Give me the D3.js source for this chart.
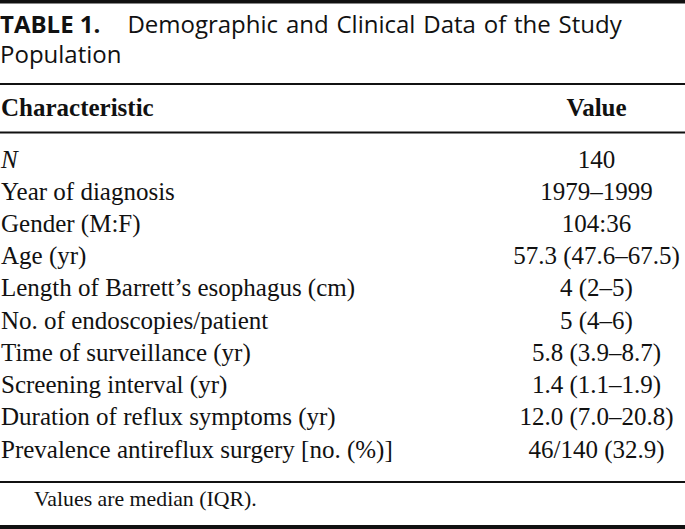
<!DOCTYPE html>
<html>
<head>
<meta charset="utf-8">
<script src="https://cdn.jsdelivr.net/npm/d3@7"></script>
<style>
  html, body { margin: 0; padding: 0; background: #fff; }
  svg { display: block; }
</style>
</head>
<body>
<svg id="chart" width="685" height="529"></svg>
<script>
// ---- data ----
const titleLabel = "TABLE 1.";
const titleLine1 = "Demographic and Clinical Data of the Study";
const titleLine2 = "Population";
const headers = ["Characteristic", "Value"];
const characteristics = [
  "N",
  "Year of diagnosis",
  "Gender (M:F)",
  "Age (yr)",
  "Length of Barrett\u2019s esophagus (cm)",
  "No. of endoscopies/patient",
  "Time of surveillance (yr)",
  "Screening interval (yr)",
  "Duration of reflux symptoms (yr)",
  "Prevalence antireflux surgery [no. (%)]"
];
const values = [
  "140",
  "1979\u20131999",
  "104:36",
  "57.3 (47.6\u201367.5)",
  "4 (2\u20135)",
  "5 (4\u20136)",
  "5.8 (3.9\u20138.7)",
  "1.4 (1.1\u20131.9)",
  "12.0 (7.0\u201320.8)",
  "46/140 (32.9)"
];
const italicRows = ["N"];
const footnote = "Values are median (IQR).";

// ---- layout ----
const W = 685, H = 529;
const svg = d3.select("#chart");
const serif = "'Liberation Serif', 'Times New Roman', serif";
const sans = "'Open Sans', 'Noto Sans', sans-serif";
const ink = "#111";
const bodySize = 25;

const rows = characteristics.map((c, i) => ({ c, v: values[i] }));
const y = d3.scalePoint().domain(d3.range(rows.length)).range([167.5, 457.5]);
const xLabel = 1, xValue = 596.5;

// rules
const rules = [
  { y: 1.75, w: 3.5 },
  { y: 84, w: 2 },
  { y: 132.5, w: 2 },
  { y: 482, w: 2 },
  { y: 527, w: 4 }
];
svg.selectAll("line.rule").data(rules).join("line")
  .attr("class", "rule")
  .attr("x1", 0).attr("x2", W)
  .attr("y1", d => d.y).attr("y2", d => d.y)
  .attr("stroke", ink).attr("stroke-width", d => d.w);

// title
const t1 = svg.append("text")
  .attr("x", 0).attr("y", 33)
  .attr("font-family", sans).attr("font-size", 24).attr("fill", ink);
t1.append("tspan").attr("font-weight", "bold").text(titleLabel);
t1.append("tspan").attr("dx", 27).attr("word-spacing", 1.6).text(titleLine1);
svg.append("text")
  .attr("x", 0).attr("y", 63)
  .attr("font-family", sans).attr("font-size", 24).attr("fill", ink)
  .text(titleLine2);

// header
svg.append("text")
  .attr("x", xLabel).attr("y", 116)
  .attr("font-family", serif).attr("font-size", bodySize).attr("font-weight", "bold").attr("fill", ink)
  .text(headers[0]);
svg.append("text")
  .attr("x", xValue).attr("y", 116).attr("text-anchor", "middle")
  .attr("font-family", serif).attr("font-size", bodySize).attr("font-weight", "bold").attr("fill", ink)
  .text(headers[1]);

// body rows
const g = svg.append("g").attr("font-family", serif).attr("font-size", bodySize).attr("fill", ink);
g.selectAll("text.label").data(rows).join("text")
  .attr("class", "label")
  .attr("x", xLabel).attr("y", (d, i) => y(i))
  .attr("font-style", d => italicRows.includes(d.c) ? "italic" : "normal")
  .text(d => d.c);
g.selectAll("text.value").data(rows).join("text")
  .attr("class", "value")
  .attr("x", xValue).attr("y", (d, i) => y(i))
  .attr("text-anchor", "middle")
  .text(d => d.v);

// footnote
svg.append("text")
  .attr("x", 34).attr("y", 506)
  .attr("font-family", serif).attr("font-size", 21.8).attr("fill", ink)
  .text(footnote);
</script>
</body>
</html>
